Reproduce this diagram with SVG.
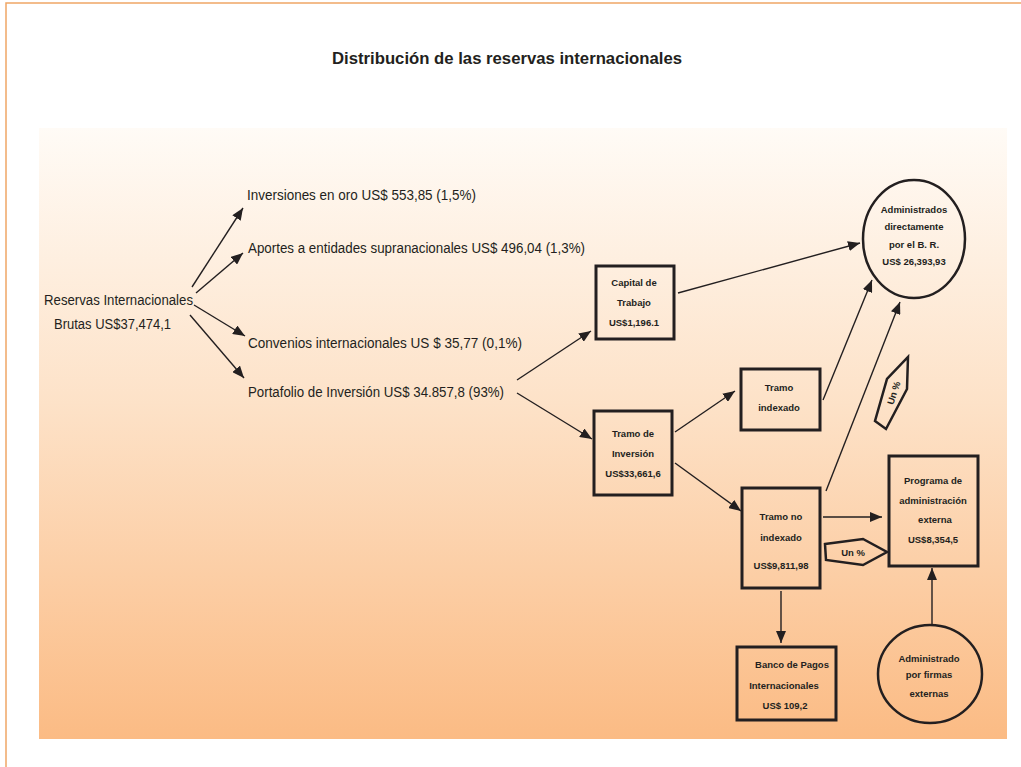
<svg xmlns="http://www.w3.org/2000/svg" width="1021" height="767" viewBox="0 0 1021 767">
<defs>
<linearGradient id="bg" x1="0" y1="0" x2="0" y2="1">
<stop offset="0" stop-color="#fffbf6"/>
<stop offset="0.45" stop-color="#fde2c8"/>
<stop offset="1" stop-color="#fbbb84"/>
</linearGradient>
<marker id="ah" viewBox="0 0 12 10" refX="12" refY="5" markerWidth="12" markerHeight="10" markerUnits="userSpaceOnUse" orient="auto">
<path d="M0,0 L12,5 L0,10 Z" fill="#231f20"/>
</marker>
<style>
.lbl{font-family:"Liberation Sans",Arial,sans-serif;font-size:15.5px;fill:#231f20}
.bx{font-family:"Liberation Sans",Arial,sans-serif;font-size:9.5px;font-weight:bold;fill:#231f20;text-anchor:middle}
.box{fill:none;stroke:#231f20;stroke-width:3}
.con{fill:none;stroke:#231f20;stroke-width:1.4}
.arr{marker-end:url(#ah)}
</style>
</defs>
<rect x="0" y="0" width="1021" height="767" fill="#ffffff"/>
<path d="M6,767 V3 H1021" fill="none" stroke="#f0a766" stroke-width="1.5"/>
<rect x="39" y="128" width="968" height="611" fill="url(#bg)"/>
<text x="507" y="64" text-anchor="middle" font-family="'Liberation Sans',Arial,sans-serif" font-size="16.5" font-weight="bold" fill="#231f20" textLength="350" lengthAdjust="spacingAndGlyphs">Distribución de las reservas internacionales</text>

<g id="connectors">
<line class="con arr" x1="192" y1="287" x2="243" y2="208"/>
<line class="con arr" x1="196" y1="293" x2="243" y2="253"/>
<line class="con arr" x1="194" y1="305" x2="245" y2="336" stroke-width="2"/>
<line class="con arr" x1="190" y1="315" x2="244" y2="378"/>
<line class="con arr" x1="517" y1="380" x2="591" y2="331"/>
<line class="con arr" x1="517" y1="393" x2="592" y2="439"/>
<line class="con arr" x1="678" y1="293" x2="860" y2="243"/>
<line class="con arr" x1="675" y1="432" x2="735" y2="391"/>
<line class="con arr" x1="675" y1="463" x2="741" y2="511"/>
<line class="con arr" x1="823" y1="400" x2="872" y2="280"/>
<line class="con arr" x1="826" y1="491" x2="900" y2="302"/>
<line class="con arr" x1="823" y1="517" x2="882" y2="517"/>
<line class="con arr" x1="781" y1="591" x2="781" y2="643"/>
<line class="con arr" x1="932" y1="625" x2="932" y2="568"/>
</g>

<g id="reservas">
<text class="lbl" x="44" y="305" textLength="149" lengthAdjust="spacingAndGlyphs">Reservas Internacionales</text>
<text class="lbl" x="54" y="329" textLength="117" lengthAdjust="spacingAndGlyphs">Brutas US$37,474,1</text>
</g>
<g id="oro"><text class="lbl" x="247" y="200" textLength="229" lengthAdjust="spacingAndGlyphs">Inversiones en oro US$ 553,85  (1,5%)</text></g>
<g id="aportes"><text class="lbl" x="248" y="253" textLength="337" lengthAdjust="spacingAndGlyphs">Aportes a entidades supranacionales US$ 496,04 (1,3%)</text></g>
<g id="convenios"><text class="lbl" x="248" y="348" textLength="274" lengthAdjust="spacingAndGlyphs">Convenios internacionales  US $ 35,77  (0,1%)</text></g>
<g id="portafolio"><text class="lbl" x="248" y="397" textLength="256" lengthAdjust="spacingAndGlyphs">Portafolio de Inversión US$ 34.857,8 (93%)</text></g>

<g id="capital">
<rect class="box" x="596" y="266" width="78" height="73"/>
<text class="bx" x="634" y="286">Capital de</text>
<text class="bx" x="634" y="306">Trabajo</text>
<text class="bx" x="634" y="326">US$1,196.1</text>
</g>
<g id="tramo-inversion">
<rect class="box" x="594" y="411" width="78" height="84"/>
<text class="bx" x="633" y="437">Tramo de</text>
<text class="bx" x="633" y="457">Inversión</text>
<text class="bx" x="633" y="477">US$33,661,6</text>
</g>
<g id="tramo-indexado">
<rect class="box" x="741" y="369" width="79" height="61"/>
<text class="bx" x="779" y="391">Tramo</text>
<text class="bx" x="779" y="411">indexado</text>
</g>
<g id="tramo-no-indexado">
<rect class="box" x="742" y="488" width="78" height="100"/>
<text class="bx" x="781" y="520">Tramo no</text>
<text class="bx" x="781" y="541">indexado</text>
<text class="bx" x="781" y="569">US$9,811,98</text>
</g>
<g id="programa">
<rect class="box" x="889" y="456" width="89" height="110"/>
<text class="bx" x="933" y="484">Programa de</text>
<text class="bx" x="933" y="504">administración</text>
<text class="bx" x="935" y="523">externa</text>
<text class="bx" x="933" y="543">US$8,354,5</text>
</g>
<g id="banco">
<rect class="box" x="737" y="647" width="99" height="73"/>
<text class="bx" x="792" y="668">Banco de Pagos</text>
<text class="bx" x="784" y="689">Internacionales</text>
<text class="bx" x="785" y="709">US$ 109,2</text>
</g>
<g id="administrados-br">
<ellipse cx="914" cy="239" rx="51" ry="59" fill="none" stroke="#231f20" stroke-width="2.5"/>
<text class="bx" x="914" y="213">Administrados</text>
<text class="bx" x="914" y="230">directamente</text>
<text class="bx" x="914" y="248">por el B. R.</text>
<text class="bx" x="914" y="265">US$ 26,393,93</text>
</g>
<g id="firmas-externas">
<ellipse cx="930" cy="674" rx="52" ry="49" fill="none" stroke="#231f20" stroke-width="2.5"/>
<text class="bx" x="929" y="662">Administrado</text>
<text class="bx" x="929" y="678">por firmas</text>
<text class="bx" x="929" y="697">externas</text>
</g>
<g id="un-pct-1">
<path d="M825,544 L863,539 L887,552 L863,565 L826,560 Z" fill="none" stroke="#231f20" stroke-width="2.5"/>
<text class="bx" x="853" y="556">Un %</text>
</g>
<g id="un-pct-2">
<path d="M908,357 L907,389 L886,429 L875,421 L887,379 Z" fill="none" stroke="#231f20" stroke-width="2.5"/>
<text class="bx" transform="translate(894,393) rotate(-72)" x="0" y="3">Un %</text>
</g>
</svg>
